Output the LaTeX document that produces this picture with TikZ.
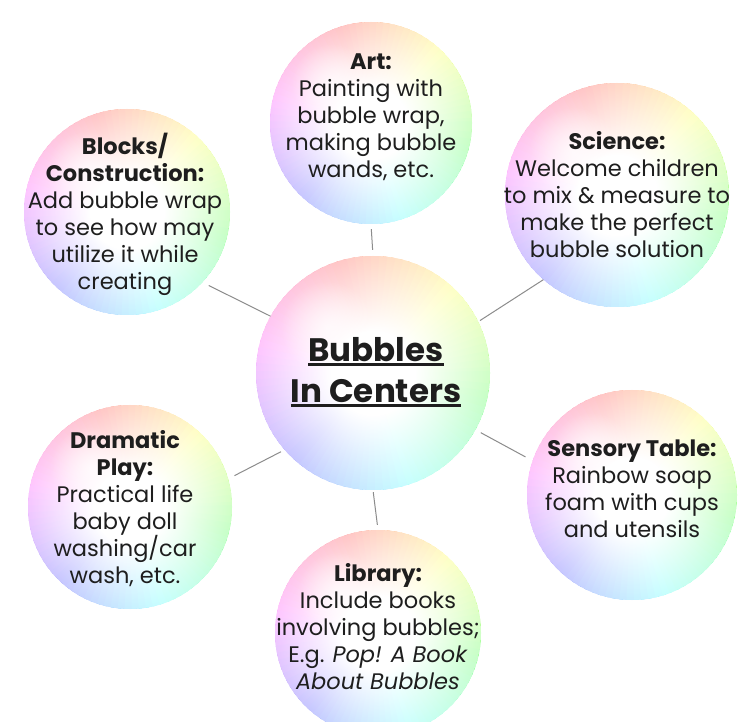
\documentclass[tikz,border=0pt]{standalone}
\usepackage{fontspec}
\setmainfont{Poppins}
\usetikzlibrary{fadings,calc}
\definecolor{textdark}{HTML}{1E1E1E}
\definecolor{linegray}{HTML}{8C8C8C}
\pgfdeclareradialshading{bubblemaskshade}{\pgfpointorigin}{color(0bp)=(white); color(9bp)=(white); color(24bp)=(black!50); color(34bp)=(black!82); color(43bp)=(black!96); color(47bp)=(black!90); color(50bp)=(black!55)}
\pgfdeclarefading{bubblefade}{\pgfuseshading{bubblemaskshade}}
\tikzfading[name=spotfade, inner color=transparent!0, outer color=transparent!100]
\newcommand\bubblepaint[1]{%
  \foreach \a in {0,4,...,356}{%
    \pgfmathsetmacro\bhue{mod(466.2-\a,360)/360}%
    \definecolor{wedgecol}{hsb}{\bhue,0.42,1}%
    \fill[wedgecol] (path picture bounding box.center) -- ++(\a-1:#1*1.1) arc[start angle=\a-1, end angle=\a+5, radius=#1*1.1] -- cycle;
  }%
  \fill[white, path fading=bubblefade] (path picture bounding box.center) circle[radius=#1];
  \fill[white, path fading=spotfade, opacity=0.7] ($(path picture bounding box.center)+(135:#1*0.55)$) circle[radius=#1*0.4];
}
\newcommand\hubul[1]{\setbox0\hbox{#1}\rlap{\rule[-5pt]{\wd0}{2.8pt}}\box0}
\tikzset{
  bubble/.style={circle, inner sep=0pt, minimum size=2*#1, path picture={\bubblepaint{#1}}},
  bubbletext/.style={align=center, text=textdark, font=\fontsize{22.5}{27}\selectfont, inner sep=0pt},
  hubtext/.style={align=center, text=textdark, font=\fontsize{32.5}{41}\selectfont\bfseries, inner sep=0pt},
  link/.style={draw=linegray, line width=1pt},
}
\begin{document}
\begin{tikzpicture}[x=1pt, y=1pt]
\fill[white] (0,0) rectangle (750,721);
\useasboundingbox (0,0) rectangle (750,721);
% bubbles
\node[bubble=117] (hub) at (373,348) {};
\node[bubble=101] (art) at (371,598) {};
\node[bubble=112] (sci) at (617,526) {};
\node[bubble=103] (blocks) at (127,509) {};
\node[bubble=105] (sens) at (632,226) {};
\node[bubble=102] (drama) at (130,214) {};
\node[bubble=103] (lib) at (378,88) {};
% texts
\node[hubtext] (hubt) at (376,349) {\hubul{Bubbles}\\\hubul{In Centers}};
\node[bubbletext] (artt) at (371,604) {\textbf{Art:}\\Painting with\\bubble wrap,\\making bubble\\wands, etc.};
\node[bubbletext] (scit) at (617,526) {\textbf{Science:}\\Welcome children\\to mix \& measure to\\make the perfect\\bubble solution};
\node[bubbletext] (blockst) at (125,507) {\textbf{Blocks/}\\\textbf{Construction:}\\Add bubble wrap\\to see how may\\utilize it while\\creating};
\node[bubbletext] (senst) at (632,232) {\textbf{Sensory Table:}\\Rainbow soap\\foam with cups\\and utensils};
\node[bubbletext] (dramat) at (125,212) {\textbf{Dramatic}\\\textbf{Play:}\\Practical life\\baby doll\\washing/car\\wash, etc.};
\node[bubbletext] (libt) at (378,94) {\textbf{Library:}\\Include books\\involving bubbles;\\E.g. \textit{Pop! A Book}\\\textit{About Bubbles}};
% connectors
\draw[link, shorten <=5pt, shorten >=6pt] (art.-90) -- (hub.90);
\draw[link, shorten <=7pt] (blocks.-43) -- (hub.151);
\draw[link, shorten >=2pt] (sci.-131) -- (hub.26);
\draw[link, shorten <=8pt, shorten >=6pt] (sens.161) -- (hub.-29);
\draw[link, shorten <=7pt, shorten >=4pt] (drama.16) -- (hub.-139);
\draw[link, shorten <=5pt, shorten >=2pt] (lib.90) -- (hub.-90);
\end{tikzpicture}
\end{document}
